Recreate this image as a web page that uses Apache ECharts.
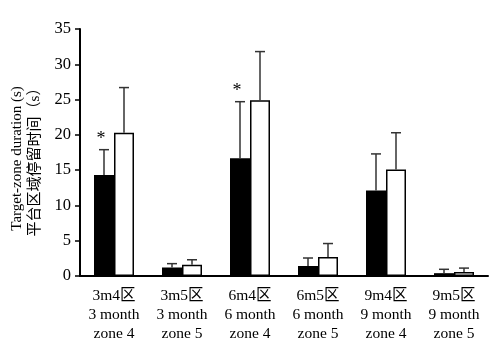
<!DOCTYPE html>
<html><head><meta charset="utf-8">
<script src="https://cdn.jsdelivr.net/npm/echarts@6/dist/echarts.min.js"></script>
<style>html,body{margin:0;padding:0;background:#fff}#c{width:500px;height:342px}</style>
</head><body><div id="c"></div>
<script>
var catCn = ['3m4区', '3m5区', '6m4区', '6m5区', '9m4区', '9m5区'];
var catMonth = ['3 month', '3 month', '6 month', '6 month', '9 month', '9 month'];
var catZone = ['zone 4', 'zone 5', 'zone 4', 'zone 5', 'zone 4', 'zone 5'];
var blackMeans = [14.3, 1.2, 16.7, 1.4, 12.1, 0.4];
var blackErr = [3.6, 0.55, 8.0, 1.15, 5.2, 0.55];
var whiteMeans = [20.3, 1.6, 24.9, 2.7, 15.1, 0.57];
var whiteErr = [6.4, 0.7, 6.9, 1.9, 5.2, 0.55];
var blackSig = [1, 0, 1, 0, 0, 0];
var yTicks = [0, 5, 10, 15, 20, 25, 30, 35];

var FONT = '"Liberation Serif", "Times New Roman", "Noto Sans CJK SC", serif';
var BW = 20;
var categories = catCn.map(function (c, i) { return c + '\n' + catMonth[i] + '\n' + catZone[i]; });

function errData(means, errs, sig) {
  return means.map(function (m, i) { return [i, m, m + errs[i], sig ? sig[i] : 0]; });
}
function errSeries(means, errs, sig, offset) {
  return {
    type: 'custom', z: 5,
    data: errData(means, errs, sig),
    renderItem: function (params, api) {
      var top = api.coord([api.value(0), api.value(1)]);
      var hi = api.coord([api.value(0), api.value(2)]);
      var x = top[0] + offset;
      var children = [
        { type: 'line', shape: { x1: x, y1: top[1], x2: x, y2: hi[1] }, style: { stroke: '#333', lineWidth: 1.5 } },
        { type: 'line', shape: { x1: x - 5, y1: hi[1], x2: x + 5, y2: hi[1] }, style: { stroke: '#333', lineWidth: 1.5 } }
      ];
      if (api.value(3)) {
        children.push({ type: 'text', style: { text: '*', x: x - 3, y: hi[1] - 1, align: 'center', verticalAlign: 'bottom', font: '18px ' + FONT, fill: '#000' } });
      }
      return { type: 'group', children: children };
    }
  };
}

var chart = echarts.init(document.getElementById('c'));
chart.setOption({
  animation: false,
  backgroundColor: '#fff',
  grid: { left: 80, right: 12, top: 29, bottom: 66, containLabel: false, outerBoundsMode: 'none' },
  xAxis: {
    type: 'category', data: categories,
    axisLine: { lineStyle: { color: '#000', width: 2 } },
    axisTick: { show: false },
    axisLabel: { color: '#000', fontFamily: FONT, fontSize: 15.5, lineHeight: 19, margin: 10, interval: 0 }
  },
  yAxis: {
    type: 'value', min: yTicks[0], max: yTicks[yTicks.length - 1], interval: 5,
    splitLine: { show: false },
    axisLine: { show: true, lineStyle: { color: '#000', width: 2 } },
    axisTick: { show: true, length: 5, lineStyle: { color: '#000', width: 1.5 } },
    axisLabel: { color: '#000', fontFamily: FONT, fontSize: 16.5, margin: 9 },
    name: 'Target-zone duration (s)\n平台区域停留时间（s）',
    nameLocation: 'middle', nameRotate: 90, nameGap: 32,
    nameTextStyle: { color: '#000', fontFamily: FONT, fontSize: 15, lineHeight: 18, padding: [0, 12, 0, 0] }
  },
  series: [
    { type: 'bar', data: blackMeans, barWidth: BW, barGap: '0%', itemStyle: { color: '#000', borderColor: '#000', borderWidth: 1.5 } },
    { type: 'bar', data: whiteMeans, barWidth: BW, barGap: '0%', itemStyle: { color: '#fff', borderColor: '#000', borderWidth: 1.5 } },
    errSeries(blackMeans, blackErr, blackSig, -BW / 2),
    errSeries(whiteMeans, whiteErr, null, BW / 2)
  ]
});
</script></body></html>
